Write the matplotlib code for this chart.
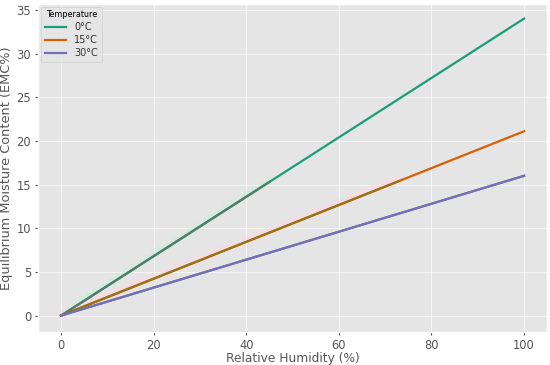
"""Equilibrium moisture content vs relative humidity."""

import matplotlib.pyplot as plt
import numpy as np

plt.style.use("ggplot")

humidity = [0, 10, 20, 30, 40, 50, 60, 70, 80, 90, 100]
emc_0c = [0.0, 3.4, 6.8, 10.2, 13.6, 17.0, 20.4, 23.8, 27.2, 30.6, 34.0]
emc_15c = [0.0, 2.11, 4.22, 6.33, 8.44, 10.55, 12.66, 14.77, 16.88, 18.99, 21.1]
emc_30c = [0.0, 1.6, 3.2, 4.8, 6.4, 8.0, 9.6, 11.2, 12.8, 14.4, 16.0]
labels = ["0°C", "15°C", "30°C"]
colors = ["#1b9e77", "#d95f02", "#7570b3"]

# faint overlay segments seen near the origin
overlay_end = [45, 73]
overlay_colors = ["#567a6c", "#957317"]
band_colors = ["#c8f0dc", "#ffd6e0"]

fig, ax = plt.subplots(figsize=(5.5, 3.65), dpi=100)
fig.patch.set_facecolor("white")
ax.set_facecolor("#e5e5e5")

x = np.array(humidity, dtype=float)
series = [np.array(emc_0c), np.array(emc_15c), np.array(emc_30c)]

for i in range(2):
    xs = np.linspace(0, overlay_end[i], 30)
    ys = np.interp(xs, x, series[i])
    ax.fill_between(xs, ys - 0.15, ys + 0.6, step="mid", color=band_colors[i],
                    alpha=0.6, lw=0, zorder=1)

for y, lab, col in zip(series, labels, colors):
    ax.plot(x, y, color=col, lw=1.6, label=lab, zorder=2)

for i in range(2):
    xs = np.array([0, overlay_end[i]], dtype=float)
    ys = np.interp(xs, x, series[i])
    ax.plot(xs, ys, color=overlay_colors[i], lw=1.6, zorder=3)
# keep purple on top at origin
ax.plot(x, series[2], color=colors[2], lw=1.6, zorder=4)

ax.grid(True, color="white", lw=0.8, alpha=0.6)
ax.set_xlabel("Relative Humidity (%)", fontsize=8.8, color="#555555", labelpad=0.5)
ax.set_ylabel("Equilibrium Moisture Content (EMC%)", fontsize=9.3,
              color="#555555", labelpad=2)
ax.tick_params(axis="both", labelsize=8.3, colors="#555555", length=2.5, pad=2.5)
ax.set_xticks([0, 20, 40, 60, 80, 100])
ax.set_yticks([0, 5, 10, 15, 20, 25, 30, 35])

leg = ax.legend(title="Temperature", loc="upper left", fontsize=7,
                title_fontsize=5.8, frameon=True, handlelength=2.2,
                labelspacing=0.3, borderaxespad=0.3)
for t in leg.get_texts():
    t.set_color("#333333")

fig.subplots_adjust(left=0.069, right=0.995, top=0.99, bottom=0.091)
fig.savefig("out.png", dpi=100)
